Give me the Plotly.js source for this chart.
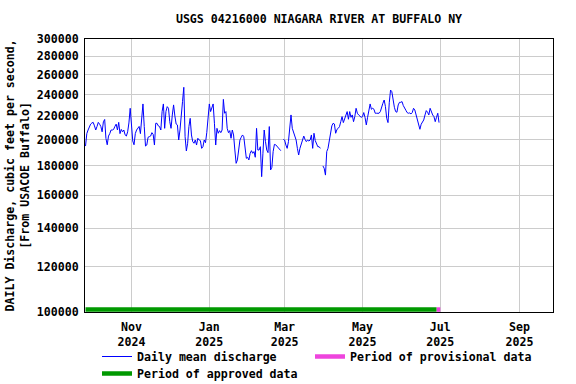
<!DOCTYPE html>
<html><head><meta charset="utf-8">
<script src="https://cdn.plot.ly/plotly-3.0.1.min.js"></script>
<style>html,body{margin:0;padding:0;background:#fff;}#chart{width:576px;height:384px;}</style>
</head><body><div id="chart"></div>
<script>
// Daily mean discharge, first value on startDate, one value per day (null = missing)
const startDate = '2024-09-26';
const discharge = [
195000,205000,208000,211000,213000,214000,214500,211500,208000,211000,
214500,213000,211000,206500,215000,217000,201000,196000,203000,205000,
208000,208000,208500,211000,213000,208000,214500,205000,208500,206500,
208000,204000,203000,206500,214000,227000,208000,199000,196000,205000,
208000,209500,211000,205000,216700,231000,211000,195000,195800,202000,
202500,203000,205800,204400,195800,213700,213700,211500,210900,208000,
224000,231000,209400,224000,228500,227000,215100,209400,221000,230100,
220100,213100,212300,199800,208000,224000,233200,247000,202500,191200,
197200,210900,218000,203900,198500,197200,199800,195800,201200,199800,
199300,193200,194500,199800,197700,205800,216600,231000,224000,227900,
231000,213700,195800,209400,205300,207500,205800,208000,235300,222500,
224000,209400,205800,207500,201200,208000,203900,191900,181900,184400,
193200,199800,202000,203900,202500,195800,185600,186400,184400,189400,
191400,189400,190700,186400,209400,191900,191900,194500,172400,189400,
208000,198500,191900,189900,210900,177100,179000,190700,196300,196000,
195000,193700,192400,191400,null,200300,199800,195800,193200,198500,
208000,221000,209400,206700,202500,199800,193200,188100,193200,197200,
199800,203000,200300,198500,199800,199000,199800,203900,193200,205300,
199300,197200,194500,194500,193200,null,180000,178300,173500,190700,
193200,198500,206700,211500,213700,213100,205300,208500,209400,210900,
215100,219500,214300,217200,219500,224000,217200,224000,218900,221000,
215100,219500,227000,222500,221000,220100,218900,219500,223100,218900,
212300,218900,224000,231000,226100,227000,226100,222500,222500,222800,
222500,224000,228500,231600,234700,228500,218000,214300,232200,244300,
242700,232200,227900,224000,223400,230100,232500,232500,233200,229500,
226700,225200,223100,222500,222800,221900,223100,227000,225500,221000,
217200,212300,208600,212900,214800,216600,221000,224900,223400,221000,
227000,223100,221000,219500,215100,218900,222500,214300
];
const approvedPeriod = ['2024-09-26', '2025-06-28'];
const provisionalPeriod = ['2025-06-28', '2025-07-01'];
const periodLevel = 101000;
const xRange = ['2024-09-25T14:00', '2025-09-27T07:00'];
const xTickVals = ['2024-11-01','2025-01-01','2025-03-01','2025-05-01','2025-07-01','2025-09-01'];
const xTickText = ['Nov<br>2024','Jan<br>2025','Mar<br>2025','May<br>2025','Jul<br>2025','Sep<br>2025'];
const yTickVals = [100000,120000,140000,160000,180000,200000,220000,240000,260000,280000,300000];
const yTickText = yTickVals.map(v => String(v));

const s = startDate.split('-').map(Number);
const dates = discharge.map((_, i) => new Date(Date.UTC(s[0], s[1]-1, s[2] + i)).toISOString().slice(0,10));

const FONT = {family: 'DejaVu Sans Mono, Liberation Mono, monospace', size: 11.6, color: '#000', weight: 'bold'};

const traces = [
  {x: dates, y: discharge, type: 'scatter', mode: 'lines', name: 'Daily mean discharge',
   line: {color: '#0000ff', width: 1}, connectgaps: false, legend: 'legend'},
  {x: provisionalPeriod, y: [periodLevel, periodLevel], type: 'scatter', mode: 'lines',
   name: 'Period of provisional data', line: {color: '#ee44dd', width: 4.5}, legend: 'legend2'},
  {x: approvedPeriod, y: [periodLevel, periodLevel], type: 'scatter', mode: 'lines',
   name: 'Period of approved data', line: {color: '#009900', width: 4.5}, legend: 'legend3'}
];

const plotH = 384 - 39 - 72;
const row1Top = -(342 - 312) / plotH;
const row2Top = -(359 - 312) / plotH;
const legendBase = {orientation: 'v', xanchor: 'left', yanchor: 'top', font: FONT,
                    bgcolor: 'rgba(0,0,0,0)', itemwidth: 30};

const layout = {
  width: 576, height: 384,
  margin: {l: 85, r: 23, t: 39, b: 72, autoexpand: false},
  paper_bgcolor: '#fff', plot_bgcolor: '#fff',
  font: FONT,
  showlegend: true,
  title: {text: 'USGS 04216000 NIAGARA RIVER AT BUFFALO NY', font: FONT,
          x: 0.5, xref: 'paper', xanchor: 'center', y: 1 - 19/384, yanchor: 'middle'},
  xaxis: {type: 'date', range: xRange, tickmode: 'array', tickvals: xTickVals, ticktext: xTickText,
          showgrid: true, gridcolor: '#cccccc', gridwidth: 1, showline: true, linecolor: '#000',
          linewidth: 1, mirror: true, ticks: '', ticklabelstandoff: 4, zeroline: false, tickfont: FONT},
  yaxis: {type: 'log', range: [5, Math.log10(300000)], tickmode: 'array', tickvals: yTickVals, ticktext: yTickText,
          showgrid: true, gridcolor: '#cccccc', gridwidth: 1, showline: true, linecolor: '#000',
          linewidth: 1, mirror: true, ticks: '', ticklabelstandoff: 3, zeroline: false, tickfont: FONT},
  legend: Object.assign({}, legendBase, {x: (97 - 85) / 468, y: row1Top}),
  legend2: Object.assign({}, legendBase, {x: (310 - 85) / 468, y: row1Top}),
  legend3: Object.assign({}, legendBase, {x: (97 - 85) / 468, y: row2Top}),
  annotations: [{
    text: 'DAILY Discharge, cubic feet per second,<br>[From USACOE Buffalo]',
    textangle: -90, xref: 'paper', yref: 'paper', x: (17 - 85) / 468, y: 0.5,
    xanchor: 'center', yanchor: 'middle', showarrow: false, font: FONT, align: 'center'
  }]
};

Plotly.newPlot('chart', traces, layout, {displayModeBar: false, staticPlot: true});
</script></body></html>
